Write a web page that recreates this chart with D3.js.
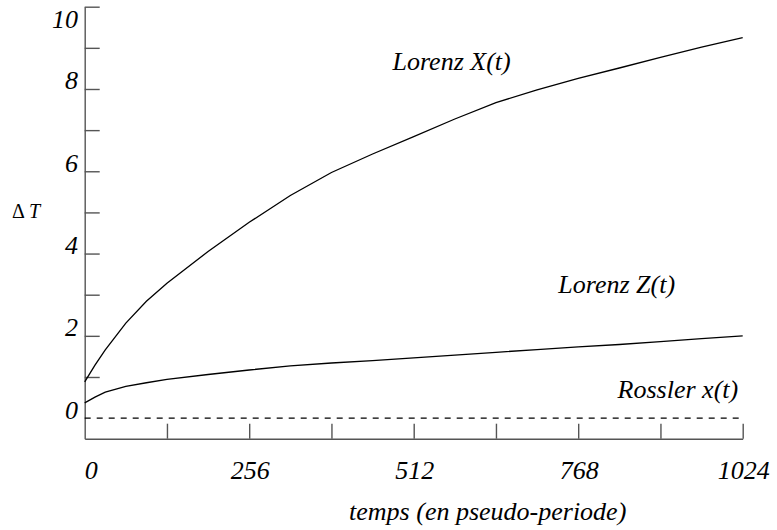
<!DOCTYPE html>
<html><head><meta charset="utf-8"><script src="https://cdn.jsdelivr.net/npm/d3@7"></script></head>
<body style="margin:0">
<svg id="c" width="777" height="530"></svg>
<script>
// ---- data ----
const times = [0, 16, 32, 64, 96, 128, 192, 256, 320, 384, 448, 512, 576, 640, 704, 768, 832, 896, 960, 1024];
const lorenzX = [0.88, 1.29, 1.66, 2.31, 2.84, 3.28, 4.05, 4.76, 5.41, 5.97, 6.42, 6.84, 7.27, 7.67, 7.98, 8.26, 8.51, 8.77, 9.02, 9.25];
const lorenzZ = [0.37, 0.51, 0.63, 0.77, 0.86, 0.94, 1.06, 1.17, 1.27, 1.34, 1.40, 1.465, 1.53, 1.60, 1.665, 1.73, 1.79, 1.86, 1.93, 2.00];
const rosslerX = [0, 0, 0, 0, 0, 0, 0, 0, 0, 0, 0, 0, 0, 0, 0, 0, 0, 0, 0, 0];
const seriesNames = ["Lorenz X(t)", "Lorenz Z(t)", "Rossler x(t)"];
const xTickValues = [128, 256, 384, 512, 640, 768, 896, 1024];
const xTickLabels = [0, 256, 512, 768, 1024];
const yTickValues = [1, 2, 3, 4, 5, 6, 7, 8, 9, 10];
const yTickLabels = [0, 2, 4, 6, 8, 10];
const xTitle = "temps (en pseudo-periode)";

// label anchor points in data space (t, value)
const labelAnchors = [
  { t: 479, v: 8.47, anchor: "start" },
  { t: 737, v: 3.04, anchor: "start" },
  { t: 1017, v: 0.49, anchor: "end" }
];

const svg = d3.select("#c");
const x = d3.scaleLinear().domain([0, 1024]).range([84.7, 742.7]);
const y = d3.scaleLinear().domain([-0.5, 10]).range([438.7, 6.7]);

// ---- axes ----
const axisColor = "#555";
const gx = svg.append("g").attr("transform", `translate(0,${y(-0.5)})`)
  .call(d3.axisBottom(x).tickValues(xTickValues).tickSizeInner(-15).tickSizeOuter(0).tickFormat(""));
const gy = svg.append("g").attr("transform", `translate(${x(0)},0)`)
  .call(d3.axisLeft(y).tickValues(yTickValues).tickSizeInner(-15).tickSizeOuter(0).tickFormat(""));
[gx, gy].forEach(g => {
  g.selectAll(".tick text").remove();
  g.selectAll("path.domain").attr("stroke", axisColor).attr("stroke-width", 1.4);
  g.selectAll(".tick line").attr("stroke", axisColor).attr("stroke-width", 1.4);
});

// ---- lines ----
const line = d3.line().x((d, i) => x(times[i])).y(d => y(d)).curve(d3.curveLinear);
const seriesData = [lorenzX, lorenzZ, rosslerX];
svg.append("g").selectAll("path").data(seriesData).join("path")
  .attr("d", d => line(d))
  .attr("fill", "none")
  .attr("stroke", "#000")
  .attr("stroke-width", 1.3)
  .attr("stroke-dasharray", (d, i) => i === 2 ? "6,6" : null);

// ---- text ----
const texts = [];
xTickLabels.forEach((d, i) => texts.push({ s: String(d), x: d === 0 ? x(d) : x(d) + 1, y: 479.3, a: d === 0 ? "start" : "middle", f: 26 }));
yTickLabels.forEach(d => texts.push({ s: String(d), x: 78, y: Math.max(y(d) + 0.5, 28), a: "end", f: 26 }));
texts.push({ s: xTitle, x: (x(0) + x(1024)) / 2 + 74, y: 520, a: "middle", f: 26 });
seriesNames.forEach((d, i) => texts.push({ s: d, x: x(labelAnchors[i].t), y: y(labelAnchors[i].v), a: labelAnchors[i].anchor, f: 26 }));

svg.append("g").selectAll("text").data(texts).join("text")
  .attr("x", d => d.x).attr("y", d => d.y)
  .attr("text-anchor", d => d.a)
  .attr("font-size", d => d.f)
  .style("font-family", "Liberation Serif")
  .style("font-style", "italic")
  .text(d => d.s);

const yt = svg.append("text").attr("x", 12).attr("y", 218).attr("font-size", 20)
  .style("font-family", "Liberation Serif");
yt.append("tspan").text("Δ");
yt.append("tspan").attr("dx", 4).style("font-style", "italic").text("T");
</script>
</body></html>
